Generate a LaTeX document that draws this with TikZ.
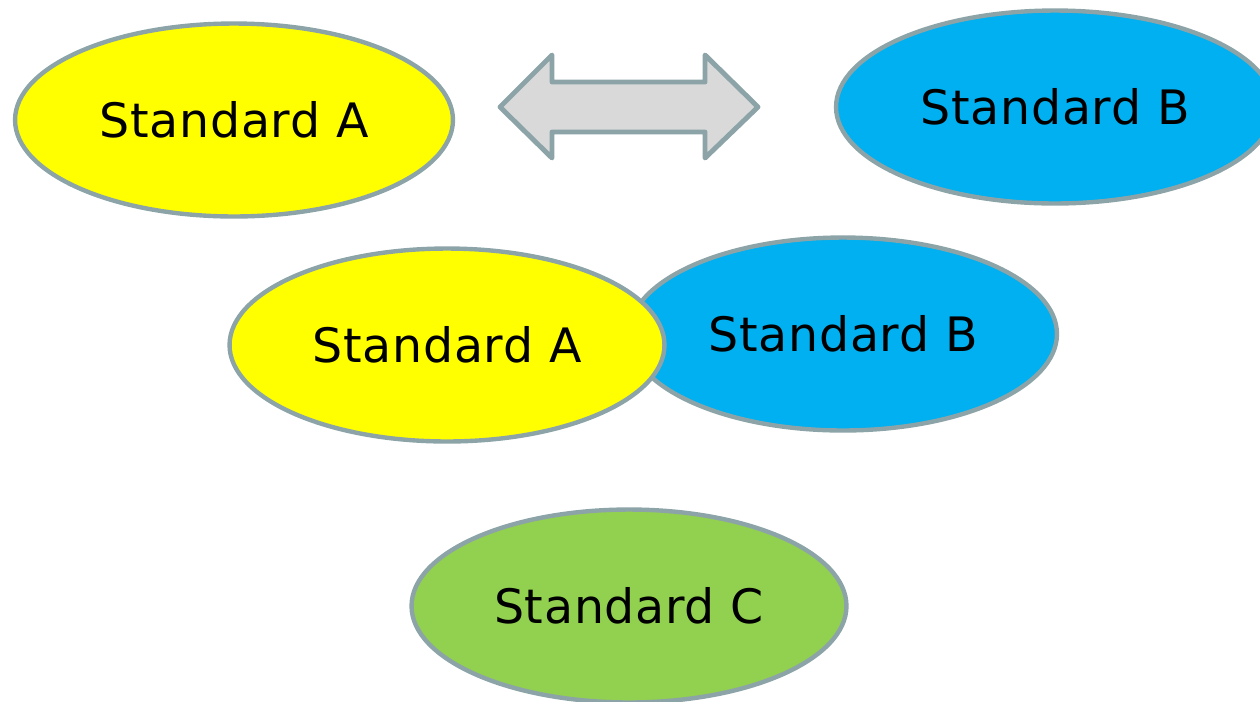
\documentclass[tikz,border=0pt]{standalone}
\usepackage{fontspec}
\setmainfont{DejaVu Sans}[LetterSpace=1.5]
\usetikzlibrary{shapes.geometric}
\definecolor{stdyellow}{HTML}{FFFF00}
\definecolor{stdblue}{HTML}{00B0F0}
\definecolor{stdgreen}{HTML}{92D050}
\definecolor{rim}{HTML}{8CA4A8}
\definecolor{arrowfill}{HTML}{D9D9D9}
\tikzset{
  standard/.style={ellipse, draw=rim, line width=2.5pt, inner sep=0pt,
    minimum width=8.76cm, minimum height=3.86cm,
    font=\fontsize{27}{32}\selectfont, text=black},
  linkarrow/.style={draw=rim, fill=arrowfill, line width=2.8pt, line join=round}
}
\begin{document}
\begin{tikzpicture}[x=0.02cm, y=-0.02cm]
  \useasboundingbox (0,0) rectangle (1260,701);
  % top row: two separate standards joined by a two-way arrow
  \node[standard, fill=stdyellow] (topA) at (234,120) {Standard A};
  \node[standard, fill=stdblue] (topB) at (1055,107) {Standard B};
  \draw[linkarrow] (500,107) -- (552,55) -- (552,82) -- (705,82) -- (705,55)
    -- (758,107) -- (705,158) -- (705,132) -- (552,132) -- (552,158) -- cycle;
  % middle row: overlapping standards
  \node[standard, fill=stdblue, minimum width=8.56cm] (midB) at (843,334) {Standard B};
  \node[standard, fill=stdyellow, minimum width=8.7cm] (midA) at (447,345) {Standard A};
  % bottom: merged standard
  \node[standard, fill=stdgreen, minimum width=8.7cm] (botC) at (629,606) {Standard C};
\end{tikzpicture}
\end{document}
